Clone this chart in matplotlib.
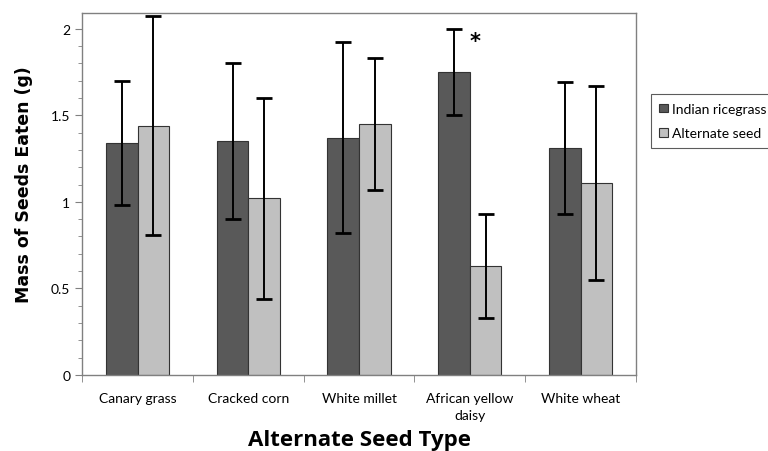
import matplotlib.pyplot as plt
import numpy as np
from matplotlib.ticker import MultipleLocator

categories = ['Canary grass', 'Cracked corn', 'White millet', 'African yellow\ndaisy', 'White wheat']
ricegrass = [1.34, 1.35, 1.37, 1.75, 1.31]
ricegrass_err = [0.36, 0.45, 0.55, 0.25, 0.38]
alternate = [1.44, 1.02, 1.45, 0.63, 1.11]
alternate_err = [0.63, 0.58, 0.38, 0.30, 0.56]

fig = plt.figure(figsize=(7.68, 4.52), dpi=100)
ax = fig.add_axes([0.107, 0.168, 0.721, 0.801])

x = np.arange(len(categories))
w = 0.285
ax.bar(x - w / 2, ricegrass, w, color='#595959', edgecolor='#333333', linewidth=0.8,
       label='Indian ricegrass')
ax.bar(x + w / 2, alternate, w, color='#c0c0c0', edgecolor='#333333', linewidth=0.8,
       label='Alternate seed')
ax.errorbar(x - w / 2, ricegrass, yerr=ricegrass_err, fmt='none', ecolor='black',
            elinewidth=1.4, capsize=6, capthick=2)
ax.errorbar(x + w / 2, alternate, yerr=alternate_err, fmt='none', ecolor='black',
            elinewidth=1.4, capsize=6, capthick=2)

# significance mark
ax.text(3.05, 1.93, '*', fontsize=15, fontweight='bold', ha='center', va='center',
        family='DejaVu Sans')

ax.set_xlim(-0.5, 4.5)
ax.set_ylim(0, 2.09)
ax.set_yticks([0, 0.5, 1, 1.5, 2])
ax.set_yticklabels(['0', '0.5', '1', '1.5', '2'], family='Lato', fontsize=10)
ax.yaxis.set_minor_locator(MultipleLocator(0.1))
ax.set_xticks(x)
ax.set_xticklabels(categories, family='Lato', fontsize=10, linespacing=1.5)
ax.set_xticks(np.arange(-0.5, 5, 1), minor=True)
ax.tick_params(axis='x', which='major', length=0, pad=12)
ax.tick_params(axis='x', which='minor', length=5, color='#808080')
ax.tick_params(axis='y', which='major', length=5, color='#808080')
ax.tick_params(axis='y', which='minor', length=3, color='#808080')
for s in ax.spines.values():
    s.set_color('#808080')
    s.set_linewidth(1.0)

ax.set_ylabel('Mass of Seeds Eaten (g)', family='DejaVu Sans', fontweight='bold',
              fontsize=12.5)
ax.yaxis.set_label_coords(-0.088, 0.53)
ax.set_xlabel('Alternate Seed Type', family='Open Sans', fontweight='bold',
              fontsize=16, labelpad=6)

leg = ax.legend(loc='upper left', bbox_to_anchor=(1.027, 0.775), frameon=True,
                fancybox=False, edgecolor='#333333', prop={'family': 'Lato', 'size': 10},
                handlelength=0.6, handleheight=0.6, handletextpad=0.3,
                labelspacing=0.9, borderaxespad=0, borderpad=0.6)
leg.get_frame().set_linewidth(0.8)

fig.savefig('out.png', dpi=100)
